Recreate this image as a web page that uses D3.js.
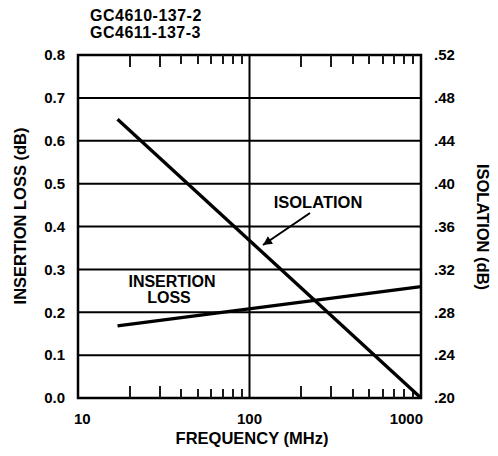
<!DOCTYPE html>
<html>
<head>
<meta charset="utf-8">
<script src="https://cdn.jsdelivr.net/npm/d3@7"></script>
<style>
  body { margin: 0; background: #fff; }
  text { font-family: "Liberation Sans", Arial, sans-serif; font-weight: bold; fill: #000; }
</style>
</head>
<body>
<div id="chart"></div>
<script>
// data
const freq = [17, 1000];                 // MHz
const insertionLoss = [0.168, 0.26];     // dB, left axis
const isolation = [0.46, 0.20];          // dB, right axis
const leftTicks = [0, 0.1, 0.2, 0.3, 0.4, 0.5, 0.6, 0.7, 0.8];
const rightTicks = [0.20, 0.24, 0.28, 0.32, 0.36, 0.40, 0.44, 0.48, 0.52];
const freqLabels = [10, 100, 1000];
const freqTicks = [20, 30, 40, 50, 60, 70, 80, 90, 200, 300, 400, 500, 600, 700, 800, 900];
const titleLines = ["GC4610-137-2", "GC4611-137-3"];

const svg = d3.select("#chart").append("svg")
    .attr("width", 498)
    .attr("height", 456);

// scales
const x = d3.scaleLog().domain([10, 1000]).range([78, 421]);
const y = d3.scaleLinear().domain([0, 0.8]).range([398, 55]);
const y2 = d3.scaleLinear().domain([0.20, 0.52]).range([398, 55]);
const tickLen = d => (d === 20 || d === 30 || d === 200 || d === 300) ? 12 : 9;

// frame
svg.append("rect")
    .attr("x", x(10)).attr("y", y(0.8))
    .attr("width", x(1000) - x(10))
    .attr("height", y(0) - y(0.8))
    .attr("fill", "none")
    .attr("stroke", "#000")
    .attr("stroke-width", 2.5);

// minor log ticks hanging from the top
svg.append("g")
    .selectAll("rect")
    .data(freqTicks)
    .join("rect")
    .attr("x", d => Math.round(x(d)) - 1)
    .attr("y", y(0.8))
    .attr("width", 2)
    .attr("height", d => tickLen(d))
    .attr("fill", "#1a1a1a");

// and standing on the bottom
svg.append("g")
    .selectAll("rect")
    .data(freqTicks)
    .join("rect")
    .attr("x", d => Math.round(x(d)) - 1)
    .attr("y", d => y(0) - tickLen(d))
    .attr("width", 2)
    .attr("height", d => tickLen(d))
    .attr("fill", "#1a1a1a");

// horizontal grid lines
svg.append("g")
    .selectAll("line")
    .data(leftTicks.slice(1, -1))
    .join("line")
    .attr("x1", x(10)).attr("x2", x(1000))
    .attr("y1", d => y(d)).attr("y2", d => y(d))
    .attr("stroke", "#000")
    .attr("stroke-width", 2);

// vertical line at 100 MHz
svg.append("line")
    .attr("x1", x(100)).attr("x2", x(100))
    .attr("y1", y(0)).attr("y2", y(0.8))
    .attr("stroke", "#000")
    .attr("stroke-width", 2);

// title
svg.selectAll(".title")
    .data(titleLines)
    .join("text")
    .attr("class", "title")
    .attr("x", 90)
    .attr("y", (d, i) => 20.5 + i * 17.5)
    .style("font-size", "16px")
    .style("letter-spacing", "0.5px")
    .text(d => d);

// left axis labels
svg.append("g")
    .selectAll("text")
    .data(leftTicks)
    .join("text")
    .attr("x", 65)
    .attr("y", d => y(d))
    .attr("dy", "0.35em")
    .attr("text-anchor", "end")
    .style("font-size", "15px")
    .text(d3.format(".1f"));

// right axis labels
svg.append("g")
    .selectAll("text")
    .data(rightTicks)
    .join("text")
    .attr("x", 434)
    .attr("y", d => y2(d))
    .attr("dy", "0.35em")
    .style("font-size", "15px")
    .text(d => d3.format(".2f")(d).slice(1));

// frequency labels
svg.append("g")
    .selectAll("text")
    .data(freqLabels)
    .join("text")
    .attr("x", (d, i) => i === 0 ? x(d) - 4 : i === 2 ? x(d) + 2 : x(d))
    .attr("y", 424)
    .attr("text-anchor", (d, i) => i === 0 ? "start" : i === 2 ? "end" : "middle")
    .style("font-size", "15px")
    .text(d => d);

// axis titles
svg.append("text")
    .attr("transform", "translate(26,216) rotate(-90)")
    .attr("text-anchor", "middle")
    .style("font-size", "16.5px")
    .text("INSERTION LOSS (dB)");

svg.append("text")
    .attr("transform", "translate(477,227) rotate(90)")
    .attr("text-anchor", "middle")
    .style("font-size", "16.5px")
    .text("ISOLATION (dB)");

svg.append("text")
    .attr("x", 252)
    .attr("y", 444)
    .attr("text-anchor", "middle")
    .style("font-size", "16.5px")
    .text("FREQUENCY (MHz)");

// data lines
const ilLine = d3.line().x(d => x(d[0])).y(d => y(d[1]));
const isoLine = d3.line().x(d => x(d[0])).y(d => y2(d[1]));

svg.append("path")
    .datum(d3.zip(freq, insertionLoss))
    .attr("d", ilLine)
    .attr("fill", "none")
    .attr("stroke", "#000")
    .attr("stroke-width", 3.3);

svg.append("path")
    .datum(d3.zip(freq, isolation))
    .attr("d", isoLine)
    .attr("fill", "none")
    .attr("stroke", "#000")
    .attr("stroke-width", 3.3);

// annotations
svg.append("text")
    .attr("x", 318).attr("y", 208)
    .attr("text-anchor", "middle")
    .style("font-size", "16.5px")
    .text("ISOLATION");

svg.append("text")
    .attr("x", 172).attr("y", 287)
    .attr("text-anchor", "middle")
    .style("font-size", "16px")
    .text("INSERTION");

svg.append("text")
    .attr("x", 169).attr("y", 303)
    .attr("text-anchor", "middle")
    .style("font-size", "16px")
    .text("LOSS");

// arrow pointing at the isolation line
svg.append("defs").append("marker")
    .attr("id", "arrow")
    .attr("viewBox", "0 0 10 10")
    .attr("refX", 10).attr("refY", 5)
    .attr("markerWidth", 12).attr("markerHeight", 9)
    .attr("markerUnits", "userSpaceOnUse")
    .attr("orient", "auto")
    .append("path")
    .attr("d", "M0,0L10,5L0,10Z")
    .attr("fill", "#000");

svg.append("line")
    .attr("x1", 310).attr("y1", 213)
    .attr("x2", 263).attr("y2", 245)
    .attr("stroke", "#000")
    .attr("stroke-width", 2)
    .attr("marker-end", "url(#arrow)");
</script>
</body>
</html>
